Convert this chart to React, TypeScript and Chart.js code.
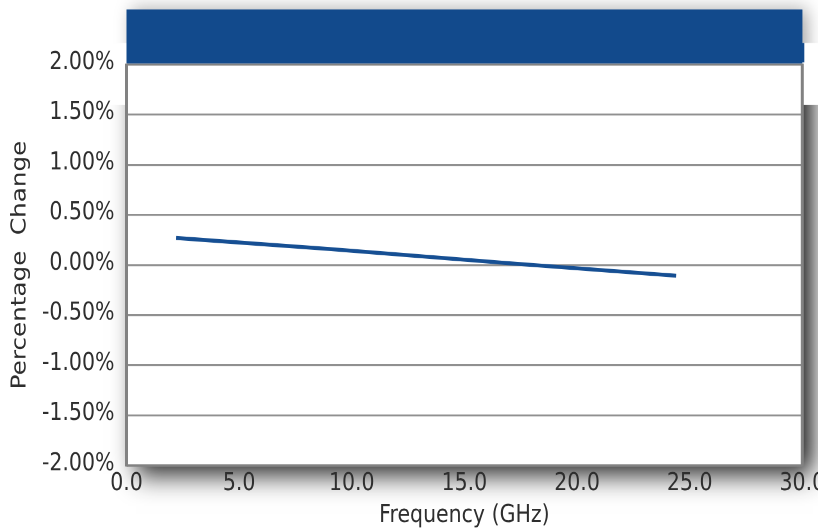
import React, { useEffect, useRef } from 'react';
import { Chart, registerables } from 'chart.js';

Chart.register(...registerables);

// ---- data ----
const frequencyGHz = [2.2, 9.0, 17.0, 24.4];
const percentChange = [0.27, 0.16, 0.017, -0.107];
const xTickValues = [0, 5, 10, 15, 20, 25, 30];
const yTickValues = [-2, -1.5, -1, -0.5, 0, 0.5, 1, 1.5, 2];
const xTitle = 'Frequency (GHz)';
const yTitle = 'Percentage  Change';

// ---- geometry (screen px) ----
const W = 818;
const H = 531;
const IH = 442; // internal drawing height, stretched to H
const SY = H / IH;
const DPR = 2;
const sy = (v: number) => v / SY;

const PLOT_L = 126.5;
const PLOT_R = 802.3;
const PLOT_T = sy(64.5);
const PLOT_B = sy(465.5);
const HEAD_T = sy(9.5);
const HEAD_B = sy(63.5);
const BAND_T = sy(43);
const BAND_B = sy(105);

const FONT = "'DejaVu Sans', sans-serif";
const TEXT = '#2e2e2e';
const BLUE = '#124a8c';
const LINE = '#164f93';

const decorPlugin = {
  id: 'decor',
  beforeDraw(chart: any) {
    const ctx = chart.ctx;
    const { left, top, right, bottom } = chart.chartArea;
    ctx.save();
    ctx.fillStyle = '#ffffff';
    ctx.fillRect(0, 0, W, IH);

    // plot drop shadow
    ctx.save();
    ctx.shadowColor = 'rgba(0,0,0,0.9)';
    ctx.shadowBlur = 22 * DPR;
    ctx.shadowOffsetX = 10 * DPR;
    ctx.shadowOffsetY = 7 * DPR;
    ctx.fillStyle = '#ffffff';
    ctx.fillRect(left, top, right - left, bottom - top);
    ctx.restore();

    // header shadow
    ctx.save();
    ctx.shadowColor = 'rgba(0,0,0,0.35)';
    ctx.shadowBlur = 16 * DPR;
    ctx.shadowOffsetX = 5 * DPR;
    ctx.shadowOffsetY = 0;
    ctx.fillStyle = BLUE;
    ctx.fillRect(left, HEAD_T, right - left, HEAD_B - HEAD_T);
    ctx.restore();

    // white band
    ctx.fillStyle = '#ffffff';
    ctx.fillRect(0, BAND_T, W, BAND_B - BAND_T);

    // plot area
    ctx.fillRect(left, top, right - left, bottom - top);

    // header bar
    ctx.fillStyle = BLUE;
    ctx.fillRect(left, HEAD_T, right - left, HEAD_B - HEAD_T);
    ctx.fillRect(right - 2, BAND_T, 4, HEAD_B - BAND_T - 1);
    ctx.restore();
  },
  beforeDatasetsDraw(chart: any) {
    const ctx = chart.ctx;
    const { left, top, right, bottom } = chart.chartArea;
    ctx.save();
    ctx.strokeStyle = '#828282';
    ctx.lineWidth = 1.7;
    ctx.beginPath();
    ctx.moveTo(left, top);
    ctx.lineTo(right, top);
    ctx.moveTo(left, bottom);
    ctx.lineTo(right, bottom);
    ctx.stroke();
    ctx.lineWidth = 3;
    ctx.beginPath();
    ctx.moveTo(left, top - 0.8);
    ctx.lineTo(left, bottom + 0.8);
    ctx.moveTo(right, top - 0.8);
    ctx.lineTo(right, bottom + 0.8);
    ctx.stroke();
    ctx.restore();
  },
};

export default function App() {
  const ref = useRef<HTMLCanvasElement | null>(null);

  useEffect(() => {
    const canvas = ref.current;
    if (!canvas) return;
    const chart = new Chart(canvas, {
      type: 'line',
      data: {
        datasets: [
          {
            data: frequencyGHz.map((x, i) => ({ x, y: percentChange[i] })),
            borderColor: LINE,
            borderWidth: 3.3,
            borderCapStyle: 'butt',
            pointRadius: 0,
            tension: 0,
            fill: false,
          },
        ],
      },
      options: {
        responsive: false,
        devicePixelRatio: DPR,
        animation: false,
        events: [],
        layout: { padding: { top: PLOT_T, right: W - PLOT_R, left: 0, bottom: 0 } },
        plugins: { legend: { display: false }, tooltip: { enabled: false }, title: { display: false } },
        scales: {
          x: {
            type: 'linear',
            min: 0,
            max: 30,
            afterBuildTicks: (s: any) => {
              s.ticks = xTickValues.map((v) => ({ value: v }));
            },
            afterFit: (s: any) => {
              s.height = IH - PLOT_B;
              s.paddingLeft = 0;
              s.paddingRight = 0;
            },
            grid: { display: false, drawTicks: false },
            border: { display: false },
            ticks: {
              autoSkip: false,
              maxRotation: 0,
              padding: 3,
              color: TEXT,
              font: { family: FONT, size: 20.5 },
              callback: (v: any) => Number(v).toFixed(1),
            },
            title: {
              display: true,
              text: xTitle,
              color: TEXT,
              font: { family: FONT, size: 20.5 },
              padding: { top: 0, bottom: 0.5 },
            },
          },
          y: {
            type: 'linear',
            min: -2,
            max: 2,
            afterBuildTicks: (s: any) => {
              s.ticks = yTickValues.map((v) => ({ value: v }));
            },
            afterFit: (s: any) => {
              s.width = PLOT_L;
              s.paddingTop = 0;
              s.paddingBottom = 0;
            },
            grid: { color: '#909090', lineWidth: 1.6, drawTicks: false },
            border: { display: false },
            ticks: {
              padding: 12,
              labelOffset: -1.5,
              color: TEXT,
              font: { family: FONT, size: 20.5 },
              callback: (v: any) => Number(v).toFixed(2) + '%',
            },
            title: {
              display: true,
              text: yTitle,
              color: TEXT,
              font: { family: FONT, size: 20.5 },
              padding: { top: 8, bottom: 0 },
            },
          },
        },
      },
      plugins: [decorPlugin],
    } as any);
    return () => chart.destroy();
  }, []);

  return (
    <div style={{ position: 'absolute', left: 0, top: 0, width: W, height: H, overflow: 'hidden', background: '#fff' }}>
      <canvas
        ref={ref}
        width={W}
        height={IH}
        style={{ width: `${W}px`, height: `${H}px`, display: 'block' }}
      />
    </div>
  );
}
